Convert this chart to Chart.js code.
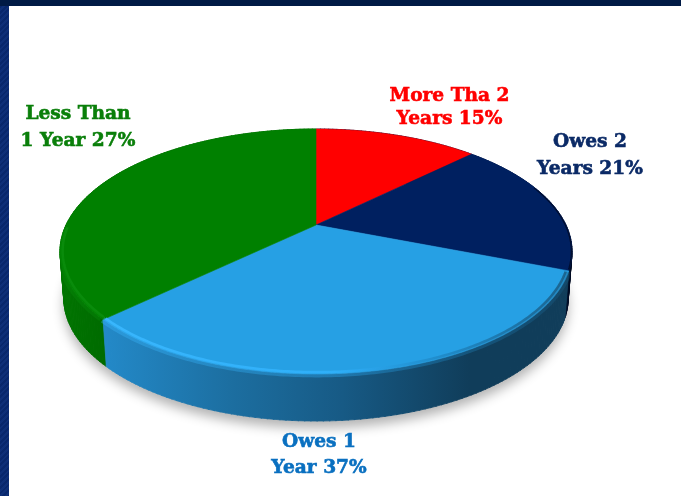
<!DOCTYPE html>
<html>
<head>
<meta charset="utf-8">
<script src="https://cdn.jsdelivr.net/npm/chart.js@4/dist/chart.umd.min.js"></script>
<style>
html, body { margin: 0; padding: 0; background: #fff; overflow: hidden; }
#wrap { position: relative; width: 681px; height: 496px; }
#topbar { position: absolute; left: 0; top: 0; width: 681px; height: 6px; background: #001a45; }
#leftbar { position: absolute; left: 0; top: 0; width: 9px; height: 496px;
  background: repeating-linear-gradient(135deg, #08276c 0 2px, #0e2f78 2px 4px); }
canvas { position: absolute; left: 0; top: 0; }
</style>
</head>
<body>
<div id="wrap">
  <canvas id="pieChart" width="681" height="496"></canvas>
  <div id="leftbar"></div>
  <div id="topbar"></div>
</div>
<script>
// slice shares (the printed percentages differ from the drawn wedges)
const categories = ['More Tha 2 Years', 'Owes 2 Years', 'Owes 1 Year', 'Less Than 1 Year'];
const sliceValues = [12.7, 18.2, 32.0, 37.1];
const labelLine1 = ['More Tha 2', 'Owes 2', 'Owes 1', 'Less Than'];
const labelLine2 = ['Years 15%', 'Years 21%', 'Year 37%', '1 Year 27%'];
const sliceColors = ['#ff0000', '#002060', '#26a0e4', '#008000'];
const labelColors = ['#ff0000', '#0b2a66', '#0a70c0', '#0a7f0a'];

// tilted pie look, ratios relative to the chart's own radius
const TILT_X = 1.111, TILT_Y = 0.519, PERSP = -0.2163, DEPTH = 0.209;

function project(el, angle, r, drop) {
    const x = r * Math.cos(angle), y = r * Math.sin(angle);
    const den = 1 + PERSP * y;
    const R = el.outerRadius;
    return {
        x: el.x + R * TILT_X * (x / den) * (1 - 0.015 * drop),
        y: el.y + R * TILT_Y * (y / den) + R * DEPTH * drop
    };
}

function rimPath(ctx, el, from, to, r, drop, start) {
    const steps = Math.max(8, Math.ceil(Math.abs(to - from) * 80));
    for (let i = 0; i <= steps; i++) {
        const p = project(el, from + (to - from) * i / steps, r, drop);
        if (i === 0 && start) ctx.moveTo(p.x, p.y); else ctx.lineTo(p.x, p.y);
    }
}

function sideStyle(ctx, i) {
    let g;
    if (i === 2) {
        g = ctx.createLinearGradient(105, 0, 470, 0);
        g.addColorStop(0, '#2389c8');
        g.addColorStop(0.35, '#1c6ea0');
        g.addColorStop(0.65, '#175a85');
        g.addColorStop(1, '#103d5a');
    } else if (i === 3) {
        g = ctx.createLinearGradient(60, 0, 110, 0);
        g.addColorStop(0, '#007400');
        g.addColorStop(1, '#006a00');
    } else {
        g = ctx.createLinearGradient(540, 0, 572, 0);
        g.addColorStop(0, '#001a4a');
        g.addColorStop(1, '#000a20');
    }
    return g;
}

function bevelStyle(ctx, i) {
    let g;
    if (i === 2) {
        g = ctx.createLinearGradient(105, 0, 565, 0);
        g.addColorStop(0, '#3ab8ff');
        g.addColorStop(0.5, '#2fb0fa');
        g.addColorStop(0.72, '#1f8ccb');
        g.addColorStop(1, '#1a5f88');
    } else if (i === 3) {
        g = '#0a8c0c';
    } else {
        g = '#000e30';
    }
    return g;
}

const tiltedPie = {
    id: 'tiltedPie',
    beforeDatasetsDraw(chart) {
        const ctx = chart.ctx;
        const arcs = chart.getDatasetMeta(0).data;
        const el = arcs[0];
        ctx.save();

        // soft ground shadow
        ctx.save();
        ctx.shadowColor = 'rgba(0,0,0,0.3)';
        ctx.shadowBlur = 12;
        ctx.shadowOffsetY = 7;
        ctx.fillStyle = '#ccc';
        ctx.beginPath();
        rimPath(ctx, el, 0, Math.PI * 2, 1, 1, true);
        ctx.closePath();
        ctx.fill();
        ctx.restore();

        // outer walls, back ones first, small strips so the path never crosses itself
        const order = arcs.map((a, i) => i).sort((p, q) =>
            Math.sin((arcs[p].startAngle + arcs[p].endAngle) / 2) -
            Math.sin((arcs[q].startAngle + arcs[q].endAngle) / 2));
        order.forEach(i => {
            const a = arcs[i];
            const strips = Math.ceil((a.endAngle - a.startAngle) * 50);
            ctx.fillStyle = sideStyle(ctx, i);
            ctx.strokeStyle = ctx.fillStyle;
            ctx.lineWidth = 0.8;
            for (let s = 0; s < strips; s++) {
                const t0 = a.startAngle + (a.endAngle - a.startAngle) * s / strips;
                const t1 = a.startAngle + (a.endAngle - a.startAngle) * (s + 1.2) / strips;
                const end = Math.min(t1, a.endAngle);
                const p = [project(el, t0, 1, 0), project(el, end, 1, 0), project(el, end, 1, 1), project(el, t0, 1, 1)];
                ctx.beginPath();
                ctx.moveTo(p[0].x, p[0].y);
                ctx.lineTo(p[1].x, p[1].y);
                ctx.lineTo(p[2].x, p[2].y);
                ctx.lineTo(p[3].x, p[3].y);
                ctx.closePath();
                ctx.fill();
                ctx.stroke();
            }
        });

        // top faces
        arcs.forEach((a, i) => {
            ctx.beginPath();
            const c = project(el, 0, 0, 0);
            ctx.moveTo(c.x, c.y);
            rimPath(ctx, el, a.startAngle, a.endAngle, 1, 0, false);
            ctx.closePath();
            ctx.fillStyle = sliceColors[i];
            ctx.fill();
            ctx.strokeStyle = sliceColors[i];
            ctx.lineWidth = 0.6;
            ctx.stroke();
        });

        // rounded rim on the front edge, kept inside the pie outline
        ctx.save();
        ctx.beginPath();
        rimPath(ctx, el, 0, Math.PI * 2, 1, 0, true);
        ctx.closePath();
        rimPath(ctx, el, 0.2, Math.PI - 0.2, 1, 0, true);
        rimPath(ctx, el, Math.PI - 0.2, 0.2, 1, 1, false);
        ctx.closePath();
        ctx.clip();
        ctx.lineCap = 'butt';
        // navy only gets a thin dark edge
        ctx.strokeStyle = bevelStyle(ctx, 1);
        ctx.lineWidth = 1.6;
        ctx.beginPath();
        rimPath(ctx, el, -0.35, arcs[1].endAngle - 0.01, 0.998, 0, true);
        ctx.stroke();
        [2, 3].forEach(i => {
            const a = arcs[i];
            const to = Math.min(a.endAngle, Math.PI - 0.02);
            ctx.strokeStyle = bevelStyle(ctx, i);
            ctx.globalAlpha = 0.35;
            ctx.lineWidth = 6;
            ctx.beginPath();
            rimPath(ctx, el, a.startAngle + 0.01, to, 1.002, 0, true);
            ctx.stroke();
            ctx.globalAlpha = 0.9;
            ctx.lineWidth = 2.5;
            ctx.beginPath();
            rimPath(ctx, el, a.startAngle + 0.01, to, 0.99, 0, true);
            ctx.stroke();
            ctx.globalAlpha = 1;
        });
        ctx.restore();

        ctx.restore();
        return false; // faces are done above, skip the flat arcs
    },
    afterDraw(chart) {
        const ctx = chart.ctx;
        const labelAt = [[449.5, 96, 119], [590, 142, 169], [319, 442, 468], [78, 114, 141]];
        ctx.save();
        ctx.font = 'bold 18.6px "DejaVu Serif"';
        ctx.textAlign = 'center';
        ctx.textBaseline = 'middle';
        ctx.lineWidth = 0.6;
        labelLine1.forEach((t, i) => {
            ctx.fillStyle = labelColors[i];
            ctx.strokeStyle = labelColors[i];
            ctx.fillText(t, labelAt[i][0], labelAt[i][1]);
            ctx.strokeText(t, labelAt[i][0], labelAt[i][1]);
            ctx.fillText(labelLine2[i], labelAt[i][0], labelAt[i][2]);
            ctx.strokeText(labelLine2[i], labelAt[i][0], labelAt[i][2]);
        });
        ctx.restore();
    }
};

var ctx = document.getElementById('pieChart').getContext('2d');
var pieChart = new Chart(ctx, {
    type: 'pie',
    data: {
        labels: categories,
        datasets: [{
            data: sliceValues,
            backgroundColor: sliceColors,
            borderWidth: 0
        }]
    },
    options: {
        responsive: false,
        animation: false,
        devicePixelRatio: 1,
        layout: { padding: { left: 0, top: 0, right: 49, bottom: 46 } },
        plugins: {
            legend: { display: false },
            tooltip: { enabled: false }
        }
    },
    plugins: [tiltedPie]
});
</script>
</body>
</html>
